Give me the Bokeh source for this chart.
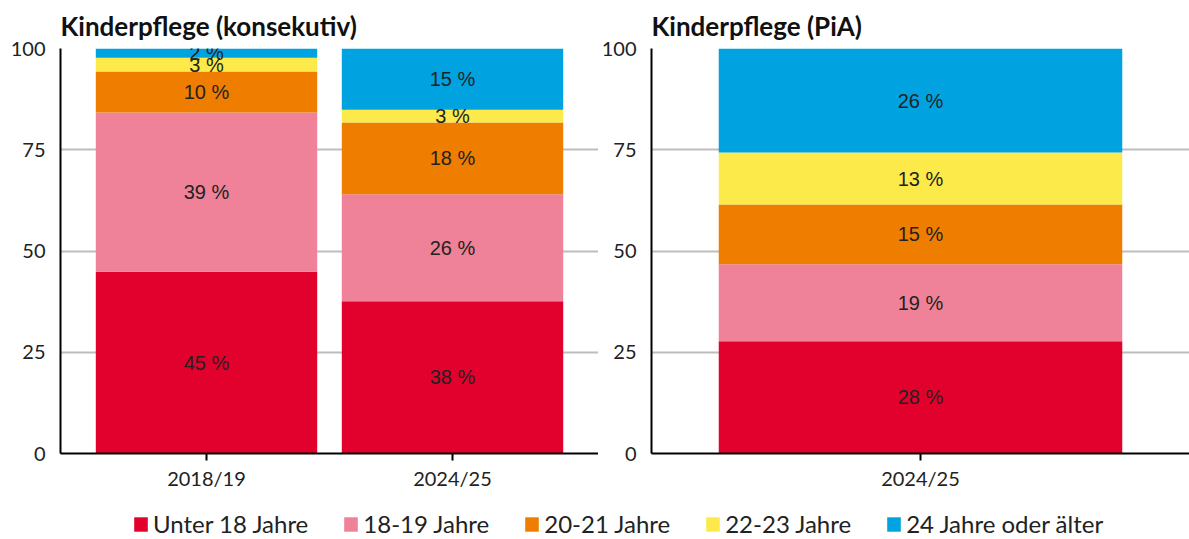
from bokeh.plotting import figure
from bokeh.models import FactorRange, Range1d, FixedTicker, Legend, LegendItem, ColumnDataSource
from bokeh.layouts import row, column
from bokeh.embed import file_html
from bokeh.resources import INLINE
from bokeh.core.properties import value

# ---- data ----
groups = ["Unter 18 Jahre", "18-19 Jahre", "20-21 Jahre", "22-23 Jahre", "24 Jahre oder älter"]
colors = ["#E2002D", "#EF8198", "#EE7D00", "#FCEA4A", "#00A2E0"]

kons_years = ["2018/19", "2024/25"]
kons_unter18 = [44.9, 37.6]
kons_18_19 = [39.3, 26.4]
kons_20_21 = [10.1, 17.7]
kons_22_23 = [3.4, 3.2]
kons_24plus = [2.3, 15.1]

pia_years = ["2024/25"]
pia_unter18 = [27.7]
pia_18_19 = [19.0]
pia_20_21 = [14.8]
pia_22_23 = [12.8]
pia_24plus = [25.7]

y_ticks = [0, 25, 50, 75, 100]

FONT = "Lato"
TXT = "#222222"


def make_panel(title, years, series, width, pad, border_left):
    keys = ["s%d" % i for i in range(len(series))]
    data = {"x": years}
    for k, s in zip(keys, series):
        data[k] = s
    src = ColumnDataSource(data)
    p = figure(x_range=FactorRange(factors=years, range_padding=pad),
               y_range=Range1d(0, 100), width=width, height=498,
               output_backend="svg", toolbar_location=None,
               min_border_left=border_left, min_border_right=0,
               min_border_top=48, min_border_bottom=45)
    p.vbar_stack(keys, x="x", width=0.9, color=colors, line_color=None, source=src)
    # labels
    lx, ly, lt = [], [], []
    for i, yr in enumerate(years):
        base = 0.0
        for s in series:
            v = s[i]
            lx.append(yr)
            ly.append(base + v / 2)
            lt.append("%d %%" % round(v))
            base += v
    p.text(x=lx, y=ly, text=lt, text_align="center", text_baseline="middle",
           text_font=value("Liberation Sans"), text_font_size="20px", text_color=TXT)

    p.title.text = title
    p.title.text_font = FONT
    p.title.text_font_size = "26px"
    p.title.text_font_style = "bold"
    p.title.text_color = "#111111"
    p.title.align = "left"
    p.title.offset = 0
    p.title.standoff = 13

    p.outline_line_color = None
    p.xgrid.grid_line_color = None
    p.ygrid.ticker = FixedTicker(ticks=y_ticks)
    p.ygrid.grid_line_color = "#BDBDBD"
    p.ygrid.grid_line_width = 2

    p.yaxis.ticker = FixedTicker(ticks=y_ticks)
    p.yaxis.major_tick_out = 0
    p.yaxis.major_tick_in = 0
    p.yaxis.minor_tick_out = 0
    p.yaxis.major_label_standoff = 15
    p.yaxis.axis_line_width = 2
    p.yaxis.axis_line_color = "black"

    p.xaxis.major_tick_out = 7
    p.xaxis.major_tick_in = 0
    p.xaxis.major_tick_line_width = 2
    p.xaxis.major_label_standoff = 5
    p.xaxis.axis_line_width = 2
    p.xaxis.axis_line_color = "black"

    for ax in (p.xaxis, p.yaxis):
        ax.major_label_text_font = FONT
        ax.major_label_text_font_size = "20px"
        ax.major_label_text_color = TXT
    return p


p1 = make_panel("Kinderpflege (konsekutiv)", kons_years,
                [kons_unter18, kons_18_19, kons_20_21, kons_22_23, kons_24plus], 598, 0.0935, 60)
p2 = make_panel("Kinderpflege (PiA)", pia_years,
                [pia_unter18, pia_18_19, pia_20_21, pia_22_23, pia_24plus], 591, 0.2, 52)

leg = figure(width=1189, height=41, output_backend="svg", toolbar_location=None,
             x_range=Range1d(0, 1), y_range=Range1d(0, 1),
             x_axis_location=None, y_axis_location=None,
             min_border=0)
leg.outline_line_color = None
leg.grid.visible = False
items = []
for g, c in zip(groups, colors):
    # placeholder outside the visible range: only its legend swatch is seen
    r = leg.vbar(x=[5.0], top=[5.0], bottom=[4.0], width=0.1, color=c, line_color=None)
    items.append(LegendItem(label=g, renderers=[r]))
legend = Legend(items=items, orientation="horizontal", location=(132, 1),
                glyph_width=17, glyph_height=18, label_standoff=4, spacing=34,
                label_text_font=FONT, label_text_font_size="24px", label_text_color=TXT,
                border_line_color=None, background_fill_alpha=0, padding=0, margin=0)
leg.add_layout(legend, "center")

layout = column(row(p1, p2, spacing=0), leg, spacing=0)
open("out.html", "w").write(file_html(layout, INLINE))
